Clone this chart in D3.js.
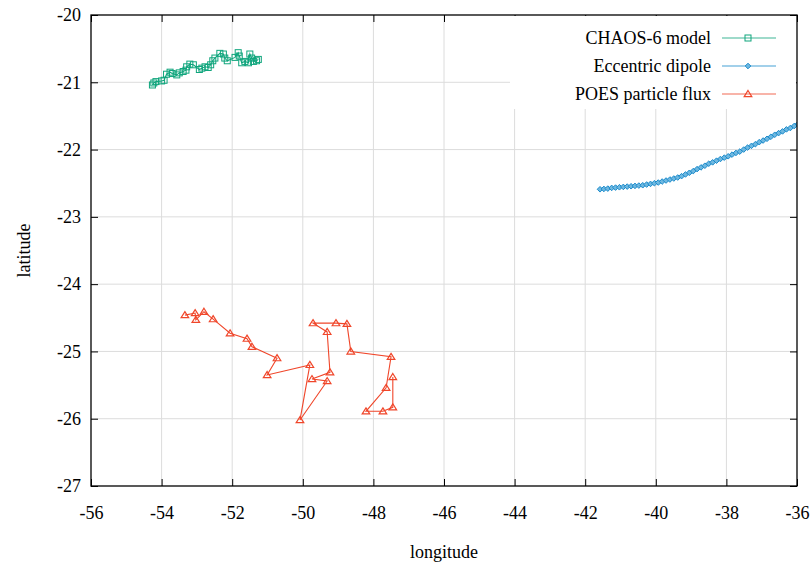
<!DOCTYPE html>
<html>
<head>
<meta charset="utf-8">
<script src="https://cdn.jsdelivr.net/npm/d3@7"></script>
<style>
  body { margin: 0; background: #fff; }
  svg text { font-family: "Liberation Serif", "Times New Roman", Times, "DejaVu Serif", "Noto Serif", serif; fill: #000; }
</style>
</head>
<body>
<div id="chart"></div>
<script>
// CHAOS-6 model track
const chaosLon = [-54.26, -54.22, -54.16, -54.00, -53.93, -53.86, -53.76, -53.70, -53.57, -53.50,
    -53.39, -53.31, -53.29, -53.20, -53.10, -52.93, -52.86, -52.77, -52.68, -52.61,
    -52.55, -52.49, -52.35, -52.25, -52.21, -52.14, -51.92, -51.83, -51.80, -51.73,
    -51.64, -51.54, -51.50, -51.45, -51.40, -51.31, -51.26];
const chaosLat = [-21.04, -21.01, -20.99, -20.98, -20.97, -20.88, -20.85, -20.87, -20.89, -20.86,
    -20.84, -20.82, -20.77, -20.73, -20.74, -20.81, -20.79, -20.77, -20.78, -20.74,
    -20.68, -20.64, -20.57, -20.58, -20.64, -20.68, -20.63, -20.56, -20.61, -20.71,
    -20.69, -20.71, -20.58, -20.64, -20.69, -20.68, -20.66];

// Eccentric dipole track
const dipoleLon = [-41.58, -41.47, -41.36, -41.25, -41.14, -41.03, -40.92, -40.81, -40.70, -40.59,
    -40.48, -40.37, -40.26, -40.15, -40.04, -39.93, -39.82, -39.71, -39.60, -39.49,
    -39.38, -39.27, -39.16, -39.05, -38.94, -38.83, -38.72, -38.61, -38.50, -38.39,
    -38.28, -38.17, -38.06, -37.95, -37.84, -37.73, -37.62, -37.51, -37.40, -37.29,
    -37.18, -37.07, -36.96, -36.85, -36.74, -36.63, -36.52, -36.41, -36.30, -36.19,
    -36.08, -35.97];
const dipoleLat = [-22.59, -22.585, -22.58, -22.57, -22.565, -22.56, -22.555, -22.55, -22.545, -22.54,
    -22.535, -22.53, -22.52, -22.51, -22.50, -22.49, -22.475, -22.46, -22.445, -22.43,
    -22.415, -22.395, -22.37, -22.345, -22.32, -22.29, -22.265, -22.24, -22.21, -22.19,
    -22.165, -22.14, -22.12, -22.10, -22.075, -22.05, -22.03, -22.00, -21.97, -21.945,
    -21.92, -21.89, -21.865, -21.84, -21.81, -21.78, -21.755, -21.73, -21.70, -21.68,
    -21.65, -21.62];

// POES particle flux track
const poesLon = [-53.34, -53.05, -53.03, -52.80, -52.54, -52.06, -51.58, -51.44, -50.73, -51.01,
    -49.80, -50.08, -49.31, -49.74, -49.23, -49.31, -49.71, -49.06, -48.75, -48.64,
    -47.50, -47.64, -48.21, -47.73, -47.45, -47.45];
const poesLat = [-24.46, -24.43, -24.53, -24.41, -24.52, -24.73, -24.81, -24.93, -25.10, -25.35,
    -25.20, -26.02, -25.44, -25.41, -25.31, -24.71, -24.58, -24.58, -24.59, -25.00,
    -25.08, -25.54, -25.89, -25.89, -25.83, -25.38];

const xTicks = [-56, -54, -52, -50, -48, -46, -44, -42, -40, -38, -36];
const yTicks = [-20, -21, -22, -23, -24, -25, -26, -27];

const series = [
    { name: 'CHAOS-6 model', lon: chaosLon, lat: chaosLat, color: '#0fa57c', marker: 'square' },
    { name: 'Eccentric dipole', lon: dipoleLon, lat: dipoleLat, color: '#1a8bcc', marker: 'diamond' },
    { name: 'POES particle flux', lon: poesLon, lat: poesLat, color: '#f0462a', marker: 'triangle' }
];

const width = 811, height = 564;
const mLeft = 91, mRight = 797, mTop = 15, mBottom = 486;
const serif = '"Liberation Serif", "Times New Roman", Times, "DejaVu Serif", "Noto Serif", serif';

const svg = d3.select('#chart').append('svg')
    .attr('width', width)
    .attr('height', height)
    .attr('font-family', serif);

const x = d3.scaleLinear().domain([-56, -36]).range([mLeft, mRight]);
const y = d3.scaleLinear().domain([-27, -20]).range([mBottom, mTop]);

// grid
svg.append('g').selectAll('line')
    .data(xTicks.slice(1, -1))
    .enter().append('line')
    .attr('x1', d => x(d)).attr('x2', d => x(d))
    .attr('y1', mTop).attr('y2', mBottom)
    .attr('stroke', '#dcdcdc').attr('stroke-width', 1);
svg.append('g').selectAll('line')
    .data(yTicks.slice(1, -1))
    .enter().append('line')
    .attr('x1', mLeft).attr('x2', mRight)
    .attr('y1', d => y(d)).attr('y2', d => y(d))
    .attr('stroke', '#dcdcdc').attr('stroke-width', 1);

// axes, ticks inward, mirrored
const tickLen = 7;
const axB = svg.append('g').attr('transform', `translate(0,${mBottom})`)
    .call(d3.axisBottom(x).tickValues(xTicks).tickSizeInner(-tickLen).tickSizeOuter(0).tickPadding(20));
const axT = svg.append('g').attr('transform', `translate(0,${mTop})`)
    .call(d3.axisTop(x).tickValues(xTicks).tickSizeInner(-tickLen).tickSizeOuter(0).tickFormat(''));
const axL = svg.append('g').attr('transform', `translate(${mLeft},0)`)
    .call(d3.axisLeft(y).tickValues(yTicks).tickSizeInner(-tickLen).tickSizeOuter(0).tickPadding(10));
const axR = svg.append('g').attr('transform', `translate(${mRight},0)`)
    .call(d3.axisRight(y).tickValues(yTicks).tickSizeInner(-tickLen).tickSizeOuter(0).tickFormat(''));
[axB, axT, axL, axR].forEach(a => {
    a.attr('font-family', serif).attr('font-size', 18);
    a.select('.domain').remove();
    a.selectAll('line').attr('stroke', '#000');
    a.selectAll('text').style('font-family', serif).style('font-size', '18px');
});
const fmt = d => String(d);
axB.selectAll('text').text(fmt);
axL.selectAll('text').text(fmt);

// data
svg.append('defs').append('clipPath').attr('id', 'clip')
    .append('rect').attr('x', mLeft).attr('y', mTop).attr('width', mRight - mLeft).attr('height', mBottom - mTop);

function marker(g, type, cx, cy, color) {
    if (type === 'square') {
        g.append('rect').attr('x', cx - 3).attr('y', cy - 3).attr('width', 6).attr('height', 6)
            .attr('fill', 'none').attr('stroke', color).attr('stroke-width', 1);
    } else if (type === 'diamond') {
        g.append('path').attr('d', `M${cx},${cy - 2.8}L${cx + 2.8},${cy}L${cx},${cy + 2.8}L${cx - 2.8},${cy}Z`)
            .attr('fill', '#6fb8e0').attr('stroke', color).attr('stroke-width', 1);
    } else {
        g.append('path').attr('d', `M${cx},${cy - 3.5}L${cx + 3.8},${cy + 2.6}L${cx - 3.8},${cy + 2.6}Z`)
            .attr('fill', 'none').attr('stroke', color).attr('stroke-width', 1.2);
    }
}

const plot = svg.append('g').attr('clip-path', 'url(#clip)');
const line = d3.line().x(d => x(d[0])).y(d => y(d[1]));
series.forEach(s => {
    const pts = s.lon.map((v, i) => [v, s.lat[i]]);
    plot.append('path').datum(pts)
        .attr('d', line)
        .attr('fill', 'none')
        .attr('stroke', s.color)
        .attr('stroke-width', 1.1);
    const mg = plot.append('g');
    pts.forEach(p => marker(mg, s.marker, x(p[0]), y(p[1]), s.color));
});

// legend
const lg = svg.append('g');
lg.append('rect').attr('x', 510).attr('y', mTop + 1).attr('width', mRight - 511).attr('height', 93)
    .attr('fill', '#fff');
series.forEach((s, i) => {
    const ly = 38 + i * 28;
    lg.append('text').attr('x', 711).attr('y', ly + 6).attr('text-anchor', 'end')
        .style('font-size', '18px').text(s.name);
    lg.append('line').attr('x1', 722).attr('x2', 776).attr('y1', ly).attr('y2', ly)
        .attr('stroke', s.color).attr('stroke-width', 1.1).attr('opacity', 0.8);
    marker(lg, s.marker, 748, ly, s.color);
});

// frame
svg.append('rect').attr('x', mLeft).attr('y', mTop).attr('width', mRight - mLeft).attr('height', mBottom - mTop)
    .attr('fill', 'none').attr('stroke', '#000').attr('stroke-width', 1.3);

// axis titles
svg.append('text').attr('x', (mLeft + mRight) / 2).attr('y', 558).attr('text-anchor', 'middle')
    .style('font-size', '18px').text('longitude');
svg.append('text').attr('transform', `translate(30,${(mTop + mBottom) / 2}) rotate(-90)`)
    .attr('text-anchor', 'middle').style('font-size', '18px').text('latitude');
</script>
</body>
</html>
